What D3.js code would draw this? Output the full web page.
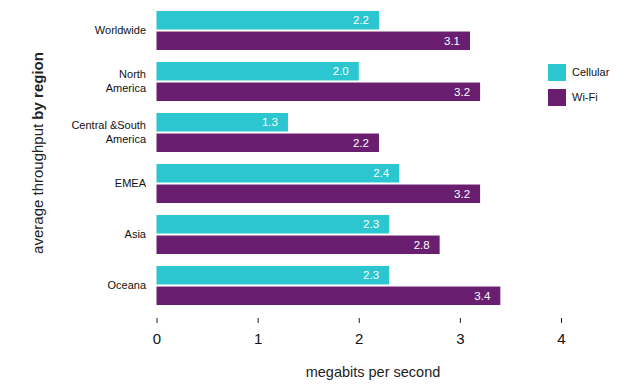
<!DOCTYPE html>
<html><head><meta charset="utf-8">
<script src="https://cdn.jsdelivr.net/npm/d3@7"></script>
<style>
html,body{margin:0;padding:0;background:#fff;}
svg{display:block;font-family:"Liberation Sans",Arial,Helvetica,sans-serif;}
</style></head>
<body><svg id="c" width="640" height="389"></svg>
<script>
const regions = [["Worldwide"], ["North", "America"], ["Central &South", "America"], ["EMEA"], ["Asia"], ["Oceana"]];
const series = ["Cellular", "Wi-Fi"];
const cellular = [2.2, 2.0, 1.3, 2.4, 2.3, 2.3];
const wifi = [3.1, 3.2, 2.2, 3.2, 2.8, 3.4];
const xTicks = [0, 1, 2, 3, 4];
const colors = ["#2bc6d0", "#6a1e70"];

const svg = d3.select("#c");
const keys = regions.map((r, i) => i);
const x = d3.scaleLinear().domain([0, 4]).range([156.5, 561]);
const y = d3.scaleBand().domain(keys).range([5, 311]).paddingInner(0.235).paddingOuter(0.1175);
const ys = d3.scaleBand().domain(series).range([0, y.bandwidth()]).paddingInner(0.1);
const vals = [cellular, wifi];

const g = svg.append("g");
keys.forEach(i => {
  series.forEach((s, j) => {
    const v = vals[j][i];
    const y0 = y(i) + ys(s);
    g.append("rect").attr("x", x(0)).attr("y", y0)
      .attr("width", x(v) - x(0)).attr("height", ys.bandwidth())
      .attr("fill", colors[j]);
    g.append("text").attr("x", x(v) - 10).attr("y", y0 + ys.bandwidth() / 2)
      .attr("dy", "0.35em").attr("text-anchor", "end")
      .attr("fill", "#fff").attr("font-size", 11.5).text(v.toFixed(1));
  });
  const lines = regions[i];
  const cy = y(i) + y.bandwidth() / 2;
  lines.forEach((l, k) => {
    g.append("text").attr("x", 146).attr("y", cy + (k - (lines.length - 1) / 2) * 14)
      .attr("dy", "0.35em").attr("text-anchor", "end")
      .attr("fill", "#111").attr("font-size", 11).text(l);
  });
});

// x axis
const ax = svg.append("g").attr("transform", "translate(0,318)")
  .call(d3.axisBottom(x).tickValues(xTicks).tickSize(5).tickPadding(10).tickFormat(d3.format("d")));
ax.select(".domain").remove();
ax.selectAll(".tick line").attr("stroke", "#222");
ax.selectAll(".tick text").attr("font-size", 15).attr("fill", "#111")
  .attr("font-family", "Liberation Sans, Arial, sans-serif");

svg.append("text").attr("x", 373).attr("y", 377).attr("text-anchor", "middle")
  .attr("font-size", 14.5).attr("fill", "#222").text("megabits per second");

const yt = svg.append("text").attr("transform", "translate(43,153) rotate(-90)")
  .attr("text-anchor", "middle").attr("font-size", 15).attr("fill", "#222");
yt.append("tspan").text("average throughput ");
yt.append("tspan").attr("font-weight", "bold").text("by region");

// legend
const lg = svg.append("g");
series.forEach((s, j) => {
  lg.append("rect").attr("x", 548).attr("y", 64 + j * 25).attr("width", 18).attr("height", 17).attr("fill", colors[j]);
  lg.append("text").attr("x", 572).attr("y", 72.5 + j * 25).attr("dy", "0.35em")
    .attr("font-size", 11).attr("fill", "#111").text(s);
});
</script></body></html>
